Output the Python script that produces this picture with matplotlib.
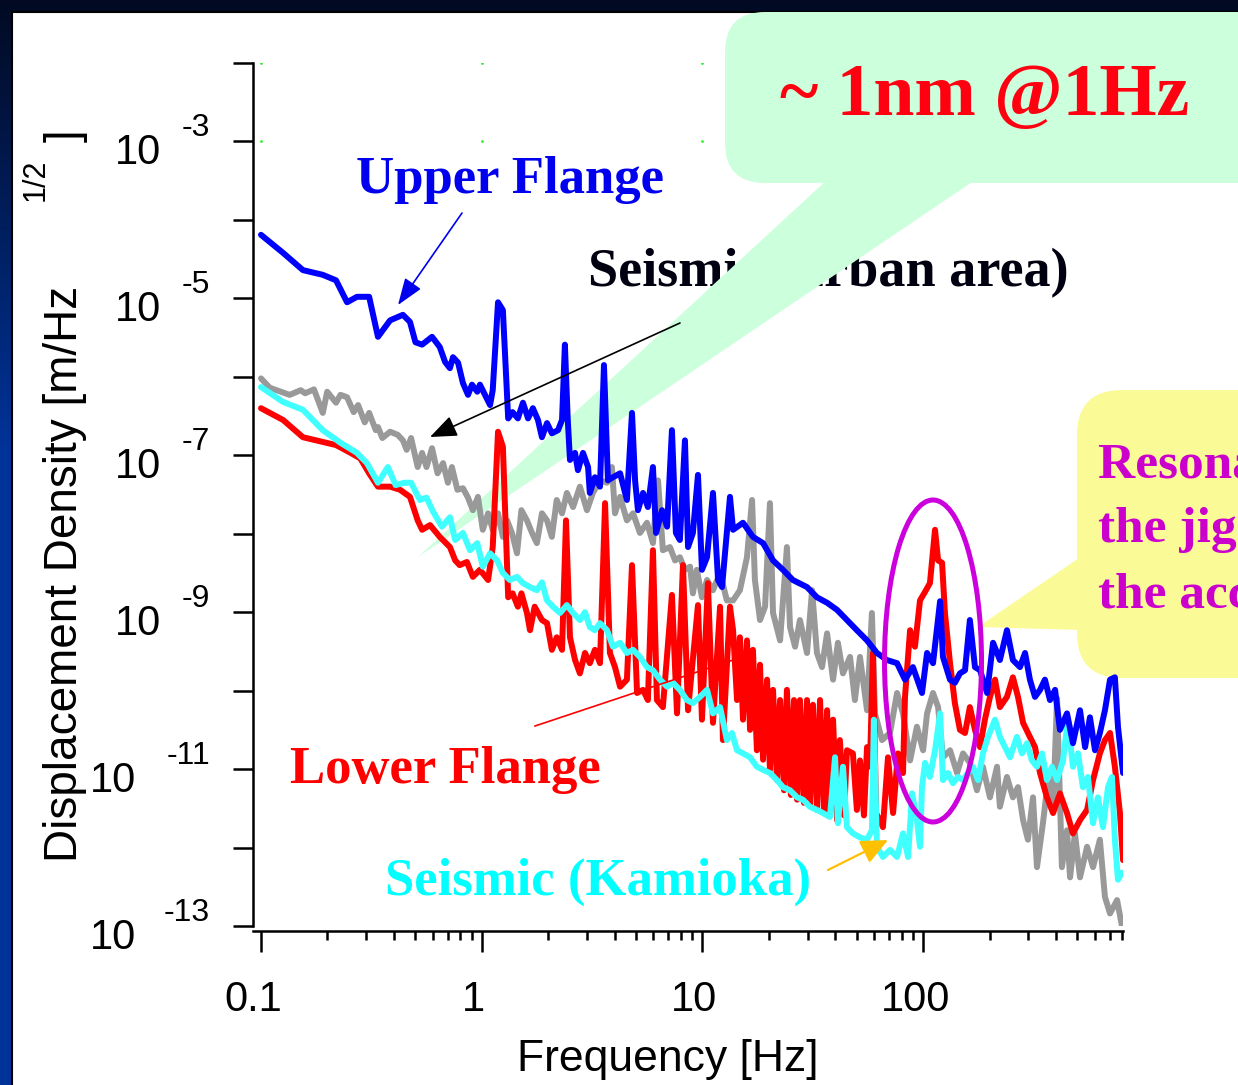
import numpy as np
import matplotlib
matplotlib.use('Agg')
import matplotlib.pyplot as plt
from matplotlib.patches import FancyBboxPatch, Polygon, Ellipse, Rectangle
from matplotlib.ticker import FixedLocator, LogLocator, NullFormatter, NullLocator
from matplotlib.transforms import ScaledTranslation

# values: log10(frequency / Hz) and log10(displacement / m Hz^-1/2)
upper_logf = [-1.00, -0.90, -0.81, -0.72, -0.66, -0.61, -0.565, -0.51, -0.47, -0.415, -0.357, -0.325,
              -0.30, -0.27, -0.225, -0.19, -0.166, -0.144, -0.13, -0.107, -0.085, -0.062, -0.044, -0.02,
              -0.008, 0.015, 0.038, 0.05, 0.074, 0.096, 0.12, 0.14, 0.164, 0.187, 0.21, 0.232, 0.255,
              0.273, 0.296, 0.318, 0.346, 0.364, 0.377, 0.39, 0.40, 0.423, 0.436, 0.459, 0.482, 0.49,
              0.513, 0.536, 0.554, 0.572, 0.595, 0.627, 0.658, 0.681, 0.695, 0.708, 0.731, 0.753, 0.776,
              0.79, 0.817, 0.84, 0.862, 0.88, 0.898, 0.921, 0.935, 0.957, 0.98, 0.998, 1.021, 1.048,
              1.071, 1.089, 1.125, 1.139, 1.184, 1.229, 1.275, 1.32, 1.365, 1.41, 1.474, 1.519, 1.565,
              1.61, 1.655, 1.70, 1.746, 1.791, 1.836, 1.882, 1.918, 1.954, 1.995, 2.018, 2.045, 2.077,
              2.09, 2.122, 2.144, 2.167, 2.19, 2.212, 2.235, 2.258, 2.29, 2.317, 2.348, 2.38, 2.407,
              2.439, 2.462, 2.484, 2.507, 2.53, 2.552, 2.575, 2.598, 2.62, 2.652, 2.679, 2.711, 2.734,
              2.756, 2.779, 2.801, 2.824, 2.847, 2.869, 2.883, 2.906]
upper_logd = [-4.19, -4.42, -4.64, -4.70, -4.77, -5.05, -4.98, -4.98, -5.49, -5.28, -5.21, -5.30,
              -5.56, -5.59, -5.49, -5.62, -5.81, -5.89, -5.75, -5.82, -6.08, -6.23, -6.10, -6.19,
              -6.10, -6.23, -6.36, -6.17, -5.05, -5.15, -6.53, -6.45, -6.53, -6.33, -6.53, -6.40, -6.55,
              -6.77, -6.59, -6.72, -6.68, -6.55, -5.59, -6.55, -7.06, -6.97, -7.19, -6.97, -7.15, -7.48,
              -7.28, -7.40, -5.85, -7.32, -7.28, -7.23, -7.57, -6.46, -7.32, -7.70, -7.48, -7.66, -7.15,
              -7.99, -7.70, -7.91, -6.68, -7.99, -8.08, -6.81, -8.17, -7.99, -7.25, -8.46, -8.30, -7.48,
              -8.59, -8.68, -7.53, -7.95, -7.86, -8.04, -8.12, -8.34, -8.46, -8.59, -8.68, -8.81, -8.88,
              -8.97, -9.10, -9.23, -9.36, -9.52, -9.61, -9.65, -9.86, -9.70, -10.03, -9.52, -9.65, -8.86,
              -9.57, -9.86, -9.90, -9.78, -9.74, -9.10, -9.70, -9.74, -10.03, -9.39, -9.61, -9.23, -9.61,
              -9.70, -9.52, -9.86, -10.08, -9.99, -9.86, -10.12, -9.99, -10.50, -10.29, -10.67, -10.25, -10.72,
              -10.34, -10.76, -10.54, -10.25, -9.86, -9.83, -10.46, -11.05]

urban_logf = [-1.00, -0.96, -0.91, -0.87, -0.82, -0.80, -0.76, -0.72, -0.70, -0.66, -0.64, -0.61, -0.58,
              -0.56, -0.53, -0.51, -0.48, -0.47, -0.45, -0.415, -0.38, -0.357, -0.34, -0.32, -0.29, -0.27,
              -0.25, -0.225, -0.20, -0.175, -0.153, -0.135, -0.11, -0.085, -0.062, -0.04, -0.017, 0.005,
              0.029, 0.05, 0.074, 0.096, 0.115, 0.137, 0.16, 0.18, 0.205, 0.228, 0.25, 0.273, 0.296, 0.318,
              0.34, 0.364, 0.386, 0.414, 0.445, 0.477, 0.504, 0.536, 0.568, 0.59, 0.604, 0.627, 0.658,
              0.686, 0.717, 0.749, 0.776, 0.799, 0.821, 0.853, 0.876, 0.898, 0.921, 0.944, 0.957, 0.975,
              0.998, 1.021, 1.048, 1.08, 1.111, 1.139, 1.17, 1.202, 1.225, 1.238, 1.261, 1.284, 1.306,
              1.32, 1.352, 1.383, 1.397, 1.42, 1.442, 1.474, 1.497, 1.519, 1.542, 1.565, 1.592, 1.614,
              1.637, 1.669, 1.691, 1.714, 1.746, 1.768, 1.782, 1.814, 1.85, 1.882, 1.909, 1.941, 1.972,
              2.00, 2.018, 2.045, 2.068, 2.09, 2.122, 2.154, 2.181, 2.212, 2.244, 2.271, 2.303, 2.335,
              2.348, 2.38, 2.407, 2.43, 2.453, 2.475, 2.498, 2.516, 2.543, 2.566, 2.589, 2.607, 2.629,
              2.652, 2.666, 2.688, 2.711, 2.743, 2.77, 2.801, 2.824, 2.847, 2.879, 2.901]
urban_logd = [-6.02, -6.14, -6.19, -6.23, -6.17, -6.21, -6.16, -6.46, -6.19, -6.33, -6.23, -6.26, -6.45,
              -6.36, -6.58, -6.46, -6.68, -6.64, -6.78, -6.70, -6.74, -6.81, -6.93, -6.78, -7.15, -6.97,
              -7.15, -6.91, -7.23, -7.10, -7.35, -7.15, -7.44, -7.42, -7.54, -7.70, -7.53, -7.95,
              -7.74, -7.95, -7.74, -8.04, -7.83, -7.99, -8.25, -7.70, -7.83, -7.99, -8.12, -7.74, -7.83, -8.04,
              -7.57, -7.74, -7.48, -7.66, -7.40, -7.70, -7.48, -7.32, -7.35, -7.15, -7.74, -7.53, -7.83,
              -7.74, -7.99, -7.86, -8.12, -7.32, -8.21, -8.17, -8.34, -8.30, -8.46, -8.42, -8.76, -8.46,
              -8.81, -8.59, -8.72, -8.50, -8.85, -8.85, -8.72, -8.30, -7.57, -8.59, -9.10, -8.93, -7.61,
              -9.01, -9.36, -8.17, -9.19, -9.44, -9.10, -9.52, -8.72, -9.52, -9.70, -9.27, -9.86, -9.39,
              -9.78, -9.57, -10.12, -9.57, -10.25, -9.01, -10.29, -10.63, -10.54, -10.03, -10.29, -10.89, -10.46,
              -10.76, -10.29, -10.03, -10.21, -10.85, -10.76, -11.05, -10.80, -10.92, -11.27, -10.97, -11.36, -10.97,
              -11.48, -11.10, -11.36, -11.23, -11.65, -11.90, -11.36, -12.25, -11.69, -11.14, -11.48, -10.10, -12.25,
              -11.78, -12.38, -11.82, -12.38, -11.99, -12.25, -11.90, -12.63, -12.84, -12.67, -13.00]

lower_logf = [-1.00, -0.90, -0.81, -0.72, -0.66, -0.60, -0.55, -0.51, -0.47, -0.415, -0.37, -0.325, -0.29,
              -0.27, -0.234, -0.19, -0.144, -0.12, -0.10, -0.067, -0.04, -0.008, 0.029, 0.05, 0.074, 0.096,
              0.12, 0.14, 0.164, 0.18, 0.205, 0.219, 0.24, 0.273, 0.296, 0.318, 0.34, 0.364, 0.382, 0.40,
              0.423, 0.445, 0.468, 0.49, 0.513, 0.536, 0.559, 0.581, 0.604, 0.627, 0.658, 0.681, 0.704,
              0.731, 0.753, 0.776, 0.794, 0.821, 0.862, 0.885, 0.912, 0.935, 0.98, 0.998, 1.025, 1.048,
              1.08, 1.093, 1.125, 1.139, 1.157, 1.17, 1.184, 1.202, 1.216, 1.229, 1.247, 1.261, 1.275,
              1.293, 1.306, 1.32, 1.338, 1.352, 1.37, 1.383, 1.401, 1.415, 1.429, 1.442, 1.46, 1.474,
              1.487, 1.501, 1.519, 1.533, 1.551, 1.565, 1.578, 1.592, 1.61, 1.623, 1.642, 1.655, 1.682,
              1.70, 1.714, 1.732, 1.746, 1.759, 1.773, 1.787, 1.818, 1.841, 1.864, 1.886, 1.909, 1.918,
              1.941, 1.963, 1.986, 2.009, 2.031, 2.054, 2.068, 2.086, 2.099, 2.122, 2.144, 2.167, 2.19,
              2.212, 2.235, 2.258, 2.28, 2.303, 2.326, 2.348, 2.38, 2.407, 2.43, 2.453, 2.484, 2.507,
              2.53, 2.561, 2.589, 2.62, 2.652, 2.679, 2.711, 2.743, 2.77, 2.801, 2.824, 2.847, 2.869,
              2.892, 2.906]
lower_logd = [-6.40, -6.55, -6.77, -6.83, -6.87, -6.96, -7.04, -7.23, -7.40, -7.40, -7.44, -7.53, -7.83,
              -7.95, -7.89, -8.04, -8.17, -8.34, -8.40, -8.36, -8.55, -8.46, -8.59, -8.17, -6.70, -6.89,
              -8.81, -8.76, -8.93, -8.76, -9.01, -9.23, -8.93, -9.10, -9.14, -9.48, -9.32, -9.48, -7.83, -9.32,
              -9.61, -9.78, -9.52, -9.65, -9.48, -9.65, -7.61, -9.52, -9.70, -9.95, -9.86, -8.40, -10.03,
              -9.99, -10.12, -8.21, -10.12, -10.21, -8.78, -10.29, -8.40, -10.25, -8.91, -10.37, -8.63, -10.41,
              -8.93, -10.63, -8.93, -9.23, -10.12, -9.32, -10.37, -9.36, -10.50, -9.48, -10.76, -9.67, -10.88,
              -9.86, -11.01, -9.99, -11.14, -10.12, -11.27, -9.99, -11.33, -10.12, -11.39, -10.12, -11.43, -10.12,
              -11.46, -10.18, -11.52, -10.12, -11.55, -10.25, -11.59, -10.37, -11.65, -10.63, -11.59, -10.76, -10.80,
              -11.52, -10.89, -11.59, -10.72, -10.97, -9.52, -11.56, -11.74, -10.85, -11.56, -10.80, -11.05, -10.08,
              -9.23, -9.44, -8.85, -8.74, -8.63, -7.95, -8.34, -8.37, -9.01, -9.65, -10.16, -10.50, -10.54,
              -10.21, -10.50, -10.72, -10.37, -10.08, -9.86, -10.21, -10.08, -9.83, -10.08, -10.41, -10.59, -10.72,
              -11.05, -11.36, -11.56, -11.31, -11.56, -11.82, -11.65, -11.52, -11.14, -10.80, -10.63, -10.54, -10.97,
              -11.56, -12.16]

kamioka_logf = [-1.00, -0.90, -0.81, -0.72, -0.64, -0.565, -0.52, -0.47, -0.425, -0.39, -0.35, -0.32,
                -0.28, -0.25, -0.22, -0.18, -0.144, -0.12, -0.085, -0.053, -0.02, 0.005, 0.038, 0.07, 0.096,
                0.128, 0.16, 0.187, 0.219, 0.25, 0.273, 0.296, 0.323, 0.355, 0.386, 0.414, 0.445, 0.468,
                0.49, 0.513, 0.536, 0.568, 0.595, 0.627, 0.658, 0.686, 0.717, 0.749, 0.776, 0.808, 0.84,
                0.867, 0.898, 0.93, 0.957, 0.989, 1.021, 1.048, 1.08, 1.111, 1.134, 1.157, 1.184, 1.216,
                1.247, 1.275, 1.306, 1.338, 1.365, 1.397, 1.429, 1.456, 1.487, 1.519, 1.546, 1.578, 1.601,
                1.614, 1.637, 1.655, 1.682, 1.714, 1.746, 1.768, 1.777, 1.791, 1.818, 1.85, 1.882, 1.909,
                1.932, 1.95, 1.972, 1.986, 1.995, 2.009, 2.031, 2.054, 2.077, 2.09, 2.113, 2.135, 2.158,
                2.181, 2.203, 2.226, 2.249, 2.271, 2.294, 2.326, 2.348, 2.371, 2.394, 2.425, 2.448, 2.471,
                2.493, 2.516, 2.539, 2.561, 2.584, 2.607, 2.634, 2.656, 2.679, 2.702, 2.724, 2.747, 2.77,
                2.792, 2.815, 2.838, 2.856, 2.869, 2.883, 2.901]
kamioka_logd = [-6.13, -6.32, -6.42, -6.68, -6.84, -6.97, -7.10, -7.35, -7.15, -7.38, -7.35, -7.35,
                -7.57, -7.54, -7.72, -7.91, -7.79, -8.08, -7.99, -8.21, -8.12, -8.42, -8.25, -8.34, -8.50,
                -8.59, -8.55, -8.63, -8.68, -8.72, -8.62, -8.85, -8.93, -9.01, -8.91, -9.01, -9.10, -9.00,
                -9.19, -9.23, -9.14, -9.23, -9.44, -9.39, -9.52, -9.48, -9.57, -9.70, -9.74, -9.86, -9.95,
                -9.90, -9.99, -10.12, -10.16, -10.08, -9.99, -10.29, -10.21, -10.63, -10.54, -10.76, -10.80, -10.85,
                -10.97, -11.01, -11.05, -11.14, -11.23, -11.27, -11.36, -11.39, -11.48, -11.52, -11.56, -11.61, -10.85,
                -11.69, -10.97, -11.74, -11.82, -11.87, -11.90, -11.78, -10.37, -11.99, -12.12, -12.03, -12.12, -11.82,
                -12.12, -11.31, -11.65, -11.99, -11.23, -10.92, -11.10, -10.76, -10.29, -11.14, -11.05, -11.18, -11.10,
                -11.14, -11.05, -10.97, -11.14, -10.80, -10.59, -10.37, -10.59, -10.72, -10.85, -10.59, -10.80, -10.67,
                -10.89, -10.97, -10.80, -11.14, -10.97, -11.14, -10.89, -10.37, -10.97, -10.80, -11.23, -11.10, -11.69,
                -11.36, -11.74, -11.23, -11.10, -11.90, -12.41, -12.32]

x_ticks = [0.1, 1, 10, 100]
x_tick_labels = ['0.1', '1', '10', '100']
y_label_exps = [-3, -5, -7, -9, -11, -13]
grid_dot_f = [0.1, 1, 10]
grid_dot_d = [1e-2, 1e-3]

W, H = 1238, 1085
plt.rcParams['font.family'] = ['Liberation Sans', 'DejaVu Sans']
serif = ['Liberation Serif', 'DejaVu Serif']

fig = plt.figure(figsize=(W / 100, H / 100), dpi=100)

# slide background: dark blue frame, white panel, and the green callout (lines sit on top of it)
bg = fig.add_axes([0, 0, 1, 1], zorder=-10)
t = np.clip(np.arange(H) / 450.0, 0, 1)[:, None]
c_top = np.array([2, 10, 34]) / 255
c_bot = np.array([0, 51, 153]) / 255
bg.imshow((c_top + (c_bot - c_top) * t)[:, None, :], extent=(0, W, H, 0), aspect='auto')
bg.add_patch(Rectangle((12, 12), W, H, facecolor='white', edgecolor='black', lw=1.5))
bg.set_xlim(0, W)
bg.set_ylim(H, 0)
bg.axis('off')

bg.text(588, 273, 'Seismic (urban area)', color='#000010', fontsize=39, fontweight='bold',
        family=serif, ha='left', va='center', zorder=3)
bg.add_patch(FancyBboxPatch((725, 12), 600, 171, boxstyle='round,pad=0,rounding_size=40',
                            fc='#ccffdc', ec='none', zorder=4))
bg.add_patch(Polygon([(829, 178), (978, 178), (418, 557)], closed=True, fc='#ccffdc', ec='none', zorder=4))
bg.add_patch(FancyBboxPatch((1077, 390), 300, 288, boxstyle='round,pad=0,rounding_size=45',
                            fc='#fafa96', ec='none', zorder=4))
bg.add_patch(Polygon([(1082, 556), (1082, 630), (978, 627)], closed=True, fc='#fafa96', ec='none', zorder=4))

ax = fig.add_axes([253 / W, 1 - 926 / H, (1123 - 253) / W, (926 - 63) / H])
ax.set_facecolor('none')
ax.set_xscale('log')
ax.set_yscale('log')

series = [
    (urban_logf, urban_logd, '#999999', 2),
    (lower_logf, lower_logd, '#ff0000', 3),
    (kamioka_logf, kamioka_logd, '#40ffff', 4),
    (upper_logf, upper_logd, '#0000ff', 5),
]
for lf, ld, col, z in series:
    ax.plot(10 ** np.array(lf), 10 ** np.array(ld), color=col, lw=4.3,
            solid_joinstyle='round', solid_capstyle='round', zorder=z)

gx, gy = np.meshgrid(grid_dot_f, grid_dot_d)
ax.plot(gx.ravel(), gy.ravel(), ls='none', marker='o', ms=2, color='#33ee33', mec='none', zorder=1)

ax.set_xlim(0.092, 805)
ax.set_ylim(1e-13, 1e-2)
for s in ['top', 'right']:
    ax.spines[s].set_visible(False)
for s in ['left', 'bottom']:
    ax.spines[s].set_linewidth(1.8)
ax.spines['bottom'].set_position(('outward', 3.6))

ax.xaxis.set_major_locator(FixedLocator(x_ticks))
ax.xaxis.set_minor_locator(LogLocator(base=10, subs=np.arange(2, 10), numticks=20))
ax.xaxis.set_minor_formatter(NullFormatter())
ax.set_xticklabels(x_tick_labels, fontsize=30)
ax.tick_params(axis='x', which='major', length=15, width=1.8, pad=20, direction='out')
ax.tick_params(axis='x', which='minor', length=6.5, width=1.8, direction='out')
shift = ScaledTranslation(-8 / 100, 0, fig.dpi_scale_trans)
for lab in ax.get_xticklabels():
    lab.set_transform(lab.get_transform() + shift)

ax.yaxis.set_major_locator(FixedLocator(10.0 ** np.arange(-13, -1)))
ax.yaxis.set_minor_locator(NullLocator())
ax.yaxis.set_major_formatter(NullFormatter())
ax.tick_params(axis='y', which='major', length=14.4, width=1.8, direction='out')

for e in y_label_exps:
    sup = '-%d' % -e
    ax.annotate(sup, xy=(0, 10.0 ** e), xycoords=('axes fraction', 'data'),
                xytext=(-43, 13), textcoords='offset pixels', ha='right', va='center', fontsize=23)
    ax.annotate('10', xy=(0, 10.0 ** e), xycoords=('axes fraction', 'data'),
                xytext=(-92 if len(sup) == 2 else -117, -12), textcoords='offset pixels',
                ha='right', va='center', fontsize=30)

fig.text(668 / W, 1 - 1060 / H, 'Frequency [Hz]', ha='center', va='center', fontsize=32)
fig.text(65 / W, 1 - 862 / H, 'Displacement Density [m/Hz', rotation=90, ha='center', va='bottom', fontsize=33)
fig.text(36 / W, 1 - 180 / H, '1/2', rotation=90, ha='center', va='center', fontsize=22)
fig.text(66 / W, 1 - 136 / H, ']', rotation=90, ha='center', va='center', fontsize=33)

# labels, arrows and the ellipse drawn in pixel coordinates on top of the plot
ov = fig.add_axes([0, 0, 1, 1], zorder=10)
ov.set_xlim(0, W)
ov.set_ylim(H, 0)
ov.axis('off')

ov.annotate('', xy=(430, 437), xytext=(680, 323),
            arrowprops=dict(arrowstyle='-|>,head_length=0.55,head_width=0.22', color='black',
                            lw=1.2, mutation_scale=30, shrinkA=0, shrinkB=0), zorder=1)
ov.text(985, 97, '~ 1nm @1Hz', color='#ff0010', fontsize=53, fontweight='bold', family=serif,
        ha='center', va='center', zorder=3)
for yy, line in zip([465, 530, 595], ['Resonance of', 'the jig and', 'the accelerometer']):
    ov.text(1098, yy, line, color='#cc00cc', fontsize=37, fontweight='bold', family=serif,
            ha='left', va='center', zorder=3)

ov.add_patch(Ellipse((933, 661), 97, 322, fill=False, ec='#cc00dd', lw=3.6, zorder=4))

ov.text(510, 180, 'Upper Flange', color='#0000ee', fontsize=38, fontweight='bold', family=serif,
        ha='center', va='center', zorder=3)
ov.annotate('', xy=(398, 305), xytext=(462, 213),
            arrowprops=dict(arrowstyle='-|>,head_length=0.55,head_width=0.2', color='#0000ee',
                            lw=1.2, mutation_scale=30, shrinkA=0, shrinkB=0), zorder=3)

ov.text(290, 770, 'Lower Flange', color='#ff0000', fontsize=38, fontweight='bold', family=serif,
        ha='left', va='center', zorder=3)
ov.plot([535, 733], [726, 660], color='#ff0000', lw=1.2, zorder=3)

ov.text(385, 882, 'Seismic (Kamioka)', color='#00ffff', fontsize=38, fontweight='bold', family=serif,
        ha='left', va='center', zorder=3)
ov.annotate('', xy=(888, 840), xytext=(828, 870),
            arrowprops=dict(arrowstyle='-|>,head_length=0.55,head_width=0.25', color='#ffc000',
                            lw=1.6, mutation_scale=30, shrinkA=0, shrinkB=0), zorder=3)

fig.savefig('out.png', dpi=100)
